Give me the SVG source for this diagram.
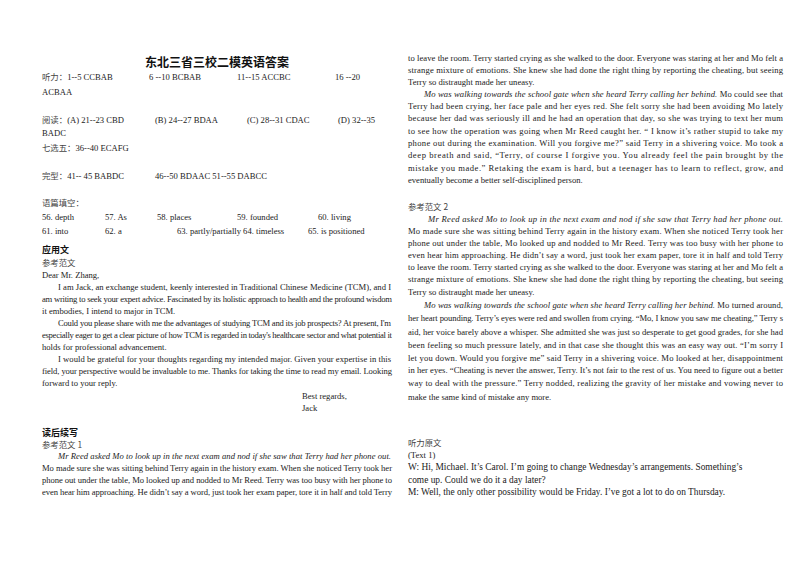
<svg xmlns="http://www.w3.org/2000/svg" width="800" height="565" viewBox="0 0 800 565">
<style>
text{font-family:"Liberation Serif","Noto Sans CJK SC",serif;font-size:8.6px;fill:#222}
.cn{font-family:"Noto Sans CJK SC",sans-serif;font-size:8.4px;fill:#444}
.h{font-family:"Noto Sans CJK SC",sans-serif;font-size:9px;font-weight:bold;fill:#111}
.t{font-family:"Noto Sans CJK SC",sans-serif;font-size:12px;font-weight:bold;fill:#111}
.i{font-style:italic}
</style>
<rect width="800" height="565" fill="#fff"/>
<g id="left">
<text class="t" x="217" y="67" text-anchor="middle">东北三省三校二模英语答案</text>
<text x="42" y="80"><tspan class="cn">听力：</tspan>1--5 CCBAB</text>
<text x="149" y="80">6  --10 BCBAB</text>
<text x="237" y="80">11--15 ACCBC</text>
<text x="335" y="80">16  --20</text>
<text x="42" y="95">ACBAA</text>
<text x="42" y="123"><tspan class="cn">阅读：</tspan>(A)  21--23  CBD</text>
<text x="155" y="123">(B)  24--27  BDAA</text>
<text x="247" y="123">(C)  28--31  CDAC</text>
<text x="338" y="123">(D)  32--35</text>
<text x="42" y="136">BADC</text>
<text x="42" y="151"><tspan class="cn">七选五：</tspan>36--40  ECAFG</text>
<text x="42" y="179"><tspan class="cn">完型：</tspan>41--  45  BABDC</text>
<text x="155" y="179">46--50  BDAAC 51--55  DABCC</text>
<text class="cn" x="42" y="206">语篇填空：</text>
<text x="42" y="220">56. depth</text><text x="105" y="220">57.  As</text><text x="157" y="220">58. places</text><text x="237" y="220">59.  founded</text><text x="318" y="220">60.  living</text>
<text x="42" y="234">61. into</text><text x="105" y="234">62.  a</text><text x="177" y="234">63.  partly/partially  64.  timeless</text><text x="308" y="234">65. is  positioned</text>
<text class="h" x="42" y="253">应用文</text>
<text class="cn" x="42" y="266">参考范文</text>
<text x="42" y="278">Dear Mr.  Zhang,</text>
<text x="58" y="290" textLength="333" lengthAdjust="spacing">I am  Jack,  an  exchange  student,  keenly  interested  in Traditional Chinese Medicine  (TCM),  and I</text>
<text x="42" y="302" textLength="350" lengthAdjust="spacing">am writing to seek your expert advice. Fascinated by its holistic approach to health and the profound wisdom</text>
<text x="42" y="314">it embodies,  I  intend  to major  in TCM.</text>
<text x="58" y="326" textLength="333" lengthAdjust="spacing">Could you please share with me the advantages of studying TCM and its job prospects?  At present, I'm</text>
<text x="42" y="338" textLength="350" lengthAdjust="spacing">especially eager to get a clear picture of how TCM is regarded in today's healthcare sector and what potential it</text>
<text x="42" y="350">holds for professional advancement.</text>
<text x="58" y="362" textLength="333" lengthAdjust="spacing">I would be grateful for your thoughts  regarding  my  intended  major.  Given  your expertise  in this</text>
<text x="42" y="374" textLength="350" lengthAdjust="spacing">field,  your  perspective  would be invaluable to me.  Thanks  for taking the time to read my email.  Looking</text>
<text x="42" y="386">forward to your reply.</text>
<text x="302" y="399">Best regards,</text>
<text x="302" y="411">Jack</text>
<text class="h" x="42" y="436">读后续写</text>
<text class="cn" x="42" y="448">参考范文 1</text>
<text class="i" x="58" y="459" textLength="333" lengthAdjust="spacing">Mr  Reed  asked Mo to look  up  in  the  next  exam  and nod if she saw that Terry had her phone out.</text>
<text x="42" y="471" textLength="350" lengthAdjust="spacing">Mo made sure she was sitting behind Terry again in the history exam.  When she noticed  Terry  took  her</text>
<text x="42" y="483" textLength="350" lengthAdjust="spacing">phone  out  under the table,  Mo looked up and nodded to Mr Reed. Terry was  too  busy with her phone  to</text>
<text x="42" y="495" textLength="350" lengthAdjust="spacing">even hear him  approaching. He didn’t say a word,  just took her exam paper, tore it in half and  told  Terry</text>
</g>
<g id="right">
<text x="408" y="61" textLength="375" lengthAdjust="spacing">to leave the room. Terry started crying as she walked to the door. Everyone was staring at her and Mo felt a</text>
<text x="408" y="73" textLength="375" lengthAdjust="spacing">strange mixture of emotions. She knew she had done the right thing by reporting the cheating, but seeing</text>
<text x="408" y="85">Terry so distraught made her uneasy.</text>
<text x="424" y="97" textLength="359" lengthAdjust="spacing"><tspan class="i">Mo was walking towards the school gate when she heard  Terry  calling  her  behind.</tspan>  Mo could see that</text>
<text x="408" y="109" textLength="375" lengthAdjust="spacing">Terry had been crying, her face pale and her eyes red.  She  felt  sorry  she  had  been avoiding  Mo  lately</text>
<text x="408" y="121" textLength="375" lengthAdjust="spacing">because her dad was seriously ill  and he had an operation  that  day,  so  she was trying to text  her  mum</text>
<text x="408" y="134" textLength="375" lengthAdjust="spacing">to see how the operation was going  when  Mr Reed caught  her.   “ I know  it’s  rather  stupid  to  take  my</text>
<text x="408" y="146" textLength="375" lengthAdjust="spacing">phone out during the examination. Will you forgive me?”  said Terry  in  a  shivering voice. Mo  took  a</text>
<text x="408" y="158" textLength="375" lengthAdjust="spacing">deep breath and said,  “Terry, of course I forgive you. You already feel the pain brought by the</text>
<text x="408" y="171" textLength="375" lengthAdjust="spacing">mistake  you  made.”  Retaking  the  exam  is  hard,  but  a  teenager  has  to  learn  to  reflect,  grow,  and</text>
<text x="408" y="183">eventually  become  a  better  self-disciplined  person.</text>
<text class="cn" x="408" y="210">参考范文 2</text>
<text class="i" x="428" y="222" textLength="355" lengthAdjust="spacing">Mr  Reed  asked Mo to look  up  in  the  next  exam  and nod if she saw that Terry had her phone out.</text>
<text x="408" y="234" textLength="375" lengthAdjust="spacing">Mo made sure she was sitting behind Terry again in the history exam.  When she noticed  Terry  took  her</text>
<text x="408" y="246" textLength="375" lengthAdjust="spacing">phone  out  under the table,  Mo looked up and nodded to Mr Reed. Terry was  too  busy with her phone  to</text>
<text x="408" y="258" textLength="375" lengthAdjust="spacing">even hear him  approaching. He didn’t say a word,  just took her exam paper, tore it in half and  told  Terry</text>
<text x="408" y="270" textLength="375" lengthAdjust="spacing">to leave the room. Terry started crying as she walked to the door. Everyone was staring at her and Mo felt a</text>
<text x="408" y="282" textLength="375" lengthAdjust="spacing">strange mixture of emotions. She knew she had done the right thing by reporting the cheating, but seeing</text>
<text x="408" y="295">Terry so distraught made her uneasy.</text>
<text x="424" y="308" textLength="359" lengthAdjust="spacing"><tspan class="i">Mo was walking towards the school gate when she heard  Terry  calling  her  behind.</tspan>  Mo turned around,</text>
<text x="408" y="321" textLength="375" lengthAdjust="spacing">her heart pounding. Terry’s eyes were red and swollen from crying.  “Mo, I know you saw me cheating,”  Terry s</text>
<text x="408" y="335" textLength="375" lengthAdjust="spacing">aid, her voice barely above a whisper.  She  admitted  she  was just so desperate to get good grades,  for  she  had</text>
<text x="408" y="348" textLength="375" lengthAdjust="spacing">been feeling so much pressure lately, and  in  that  case  she  thought this was an easy way out.  “I’m sorry I</text>
<text x="408" y="361" textLength="375" lengthAdjust="spacing">let you down.  Would  you  forgive  me”  said  Terry  in  a  shivering  voice.  Mo looked at her, disappointment</text>
<text x="408" y="373" textLength="375" lengthAdjust="spacing">in her eyes.  “Cheating is never the answer, Terry. It’s not fair to the rest of us.  You  need to figure out a better</text>
<text x="408" y="386" textLength="375" lengthAdjust="spacing">way to deal with  the  pressure.”  Terry nodded, realizing the gravity of her mistake and vowing  never  to</text>
<text x="408" y="400">make  the  same  kind  of  mistake  any  more.</text>
<text class="cn" x="408" y="446">听力原文</text>
<text x="408" y="458">(Text 1)</text>
<text x="408" y="470" style="font-size:9.4px">W: Hi, Michael. It’s Carol. I’m going to change Wednesday’s arrangements. Something’s</text>
<text x="408" y="483" style="font-size:9.4px">come up. Could we do it a day later?</text>
<text x="408" y="495" style="font-size:9.4px">M: Well, the only other possibility would be Friday. I’ve got a lot to do on Thursday.</text>
</g>
</svg>
